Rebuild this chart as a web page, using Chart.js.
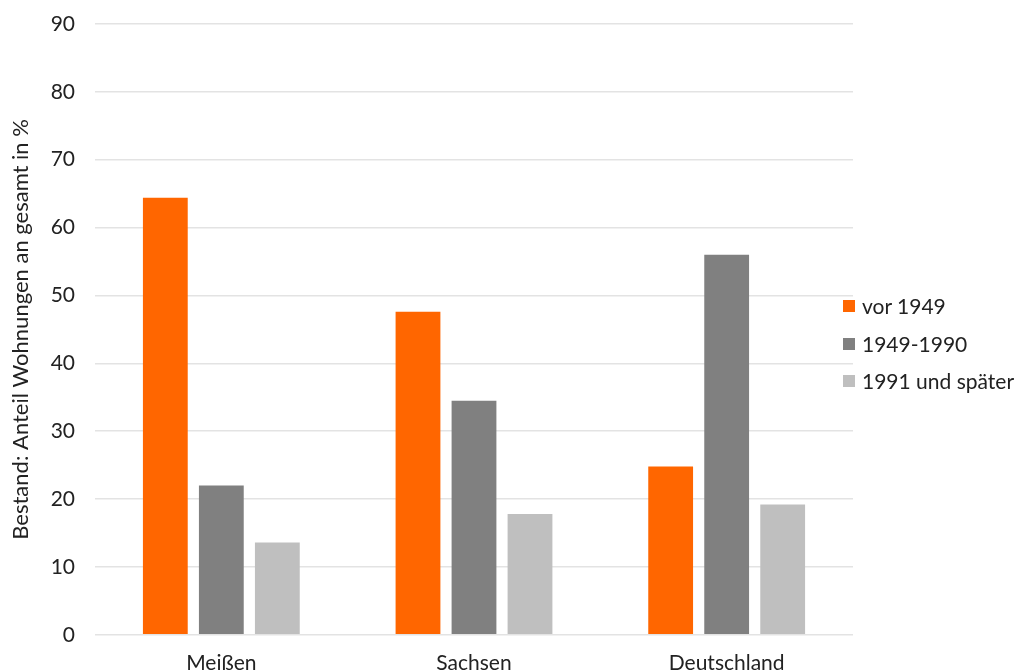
<!DOCTYPE html>
<html lang="de">
<head>
  <meta charset="UTF-8">
  <title>Wohnungsbestand nach Baujahr</title>
  <script src="https://cdn.jsdelivr.net/npm/chart.js"></script>
  <style>
    html, body { margin: 0; padding: 0; background: #fff; }
    .wrap { position: relative; width: 1016px; height: 672px; }
    .legende { position: absolute; left: 843px; top: 293px; font-family: Lato, "Open Sans", sans-serif; font-size: 21px; line-height: 26px; color: #222; }
    .legende div { height: 37.5px; display: flex; align-items: flex-start; }
    .legende span.box { display: inline-block; width: 12px; height: 12px; margin: 7px 7px 0 0; }
  </style>
</head>
<body>
  <div class="wrap">
    <canvas id="chart" width="1016" height="672"></canvas>
    <div class="legende" id="legende"></div>
  </div>

  <script>
    const regionen = ['Meißen', 'Sachsen', 'Deutschland'];
    const serien = ['vor 1949', '1949-1990', '1991 und später'];
    const vor1949 = [64.4, 47.6, 24.8];
    const zwischen = [22.0, 34.5, 56.0];
    const ab1991 = [13.6, 17.8, 19.2];
    const farben = ['#ff6600', '#808080', '#bfbfbf'];
    const yTicks = [0, 10, 20, 30, 40, 50, 60, 70, 80, 90];

    const werte = [vor1949, zwischen, ab1991];
    const datasets = serien.map((s, i) => ({
      label: s,
      data: werte[i],
      backgroundColor: farben[i],
      borderWidth: 0,
      barPercentage: 0.8,
      categoryPercentage: 0.665
    }));

    // Legende als HTML rechts neben der Grafik
    const leg = document.getElementById('legende');
    serien.forEach((s, i) => {
      const d = document.createElement('div');
      d.innerHTML = '<span class="box" style="background:' + farben[i] + '"></span>' + s;
      leg.appendChild(d);
    });

    const schrift = { family: 'Lato, "Open Sans", sans-serif', size: 21 };

    new Chart(document.getElementById('chart').getContext('2d'), {
      type: 'bar',
      data: { labels: regionen, datasets: datasets },
      options: {
        responsive: false,
        animation: false,
        layout: { padding: { top: 24, right: 163, bottom: -12, left: 8 } },
        plugins: { legend: { display: false }, tooltip: { enabled: false } },
        scales: {
          x: {
            grid: { display: false },
            border: { display: false },
            ticks: { color: '#222', font: schrift, padding: 8 }
          },
          y: {
            min: 0,
            max: 90,
            afterBuildTicks: axis => { axis.ticks = yTicks.map(v => ({ value: v })); },
            afterFit: axis => { axis.paddingTop = 0; axis.paddingBottom = 0; axis.width = 87; },
            grid: { color: '#e3e3e3', lineWidth: 1.5, drawTicks: false },
            border: { display: false },
            ticks: { color: '#222', font: schrift, padding: 20 },
            title: {
              display: true,
              text: 'Bestand: Anteil Wohnungen an gesamt in %',
              color: '#222',
              font: { family: 'Lato, "Open Sans", sans-serif', size: 22 },
              padding: { top: 0, bottom: 0 }
            }
          }
        }
      }
    });
  </script>
</body>
</html>
